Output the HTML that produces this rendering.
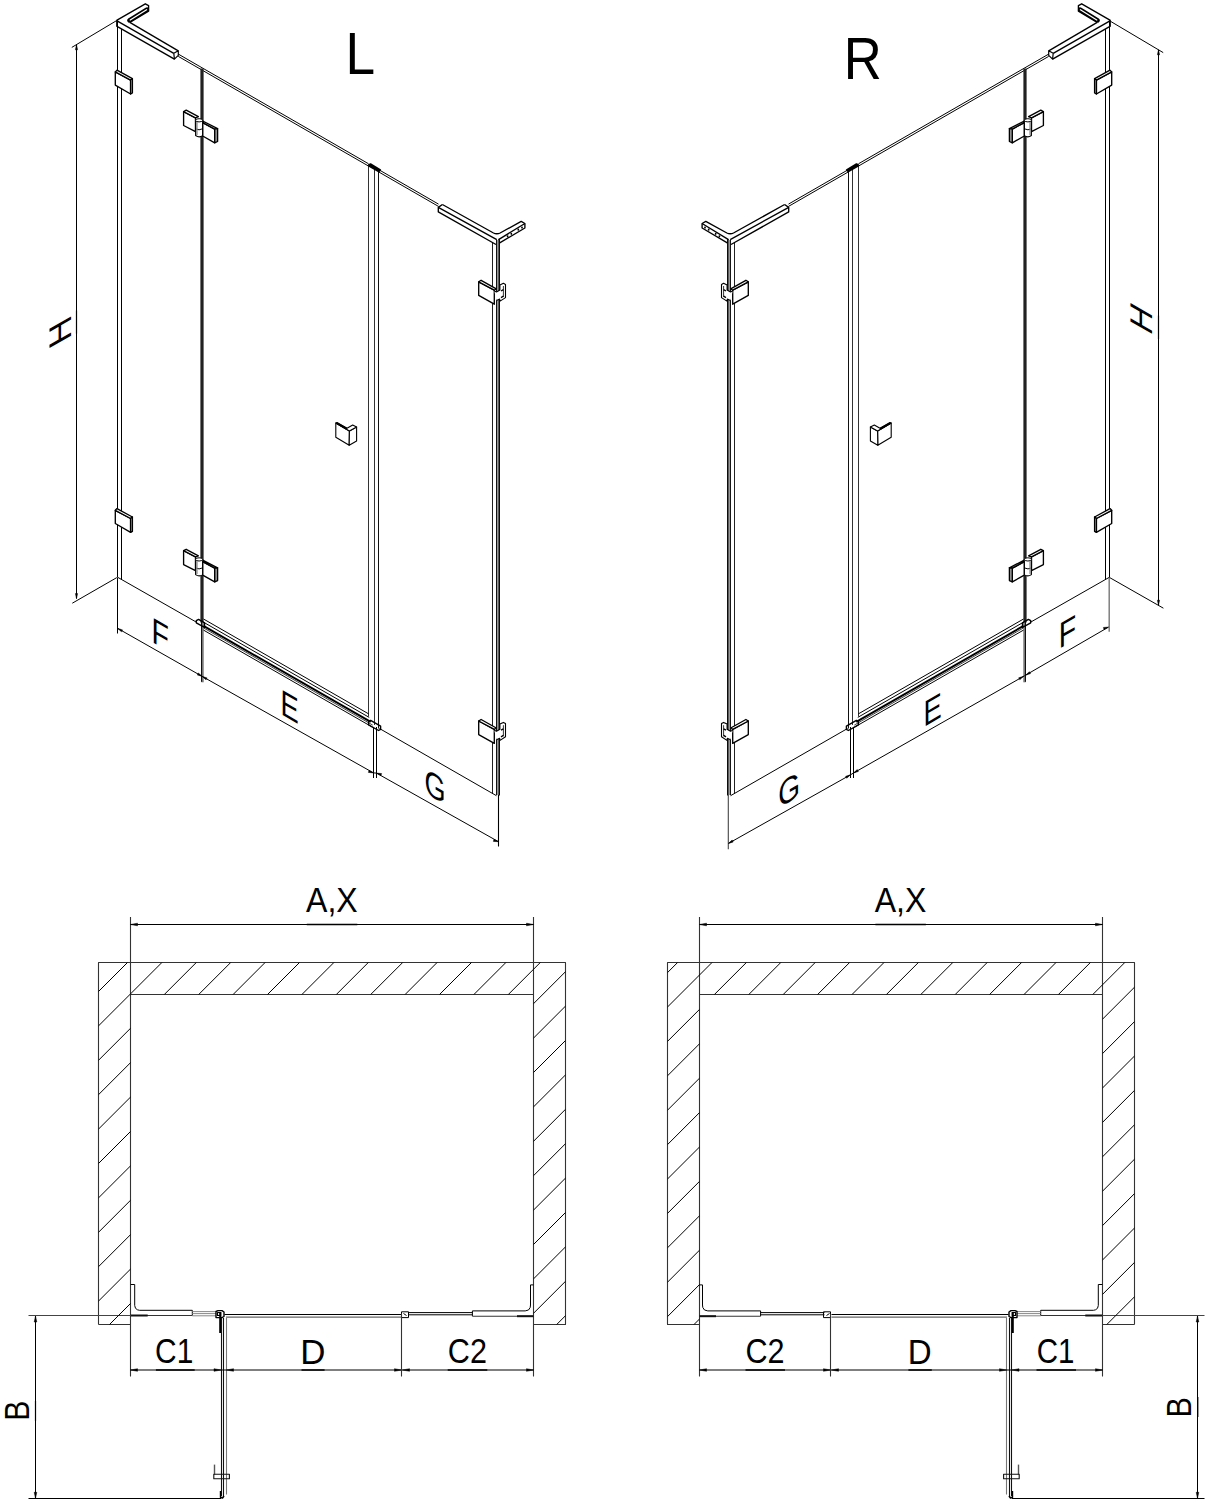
<!DOCTYPE html><html><head><meta charset="utf-8"><style>html,body{margin:0;padding:0;background:#fff;}svg{display:block;}</style></head><body><svg width="1212" height="1505" viewBox="0 0 1212 1505"><defs><clipPath id="cpl"><polygon points="98.5,962.5 565.5,962.5 565.5,1324.5 533.5,1324.5 533.5,994.5 130.5,994.5 130.5,1324.5 98.5,1324.5"/></clipPath><clipPath id="cpr"><polygon points="1134.5,962.5 667.5,962.5 667.5,1324.5 699.5,1324.5 699.5,994.5 1102.5,994.5 1102.5,1324.5 1134.5,1324.5"/></clipPath></defs><g id="isoL"><line x1="117.5" y1="20.5" x2="117.5" y2="577.5" stroke="#000" stroke-width="1.0"/><line x1="121.5" y1="29" x2="121.5" y2="579.8" stroke="#000" stroke-width="1.0"/><polygon points="115.3,71.9 130.6,80.1 130.6,94 115.3,85.1" stroke="#000" stroke-width="1.35" fill="#fff" stroke-linejoin="round"/><polygon points="115.3,71.9 117,70.2 132.4,78.6 130.6,80.1" stroke="#000" stroke-width="1.35" fill="#fff" stroke-linejoin="round"/><polygon points="130.6,80.1 132.4,78.6 132.4,93 130.6,94" stroke="#000" stroke-width="1.35" fill="#ddd" stroke-linejoin="round"/><polygon points="115.3,510.3 130.6,518.5 130.6,532.4 115.3,523.5" stroke="#000" stroke-width="1.35" fill="#fff" stroke-linejoin="round"/><polygon points="115.3,510.3 117,508.6 132.4,517 130.6,518.5" stroke="#000" stroke-width="1.35" fill="#fff" stroke-linejoin="round"/><polygon points="130.6,518.5 132.4,517 132.4,531.4 130.6,532.4" stroke="#000" stroke-width="1.35" fill="#ddd" stroke-linejoin="round"/><polyline points="116.6,20.3 145.3,3.8 148.6,5.6 148.6,11.2 129.8,22.4" stroke="#000" stroke-width="1.35" fill="none" stroke-linejoin="round"/><line x1="129.4" y1="20.4" x2="146.8" y2="9.6" stroke="#000" stroke-width="4.6" stroke-linecap="round"/><line x1="130.2" y1="20" x2="146.6" y2="9.8" stroke="#fff" stroke-width="1.3" stroke-linecap="round"/><line x1="129.8" y1="22.4" x2="178.3" y2="50.8" stroke="#000" stroke-width="1.35"/><line x1="116.6" y1="20.6" x2="173.8" y2="53.3" stroke="#000" stroke-width="1.35"/><line x1="116.6" y1="26.1" x2="174.4" y2="59.1" stroke="#000" stroke-width="1.35"/><line x1="116.8" y1="20.3" x2="116.8" y2="26.5" stroke="#000" stroke-width="1.35"/><polyline points="173.8,53.3 178.3,50.8 178.3,55.4 174.4,59.1 173.8,53.3" stroke="#000" stroke-width="1.2" fill="none" stroke-linejoin="round"/><line x1="178.3" y1="54.08" x2="368.5" y2="163.75" stroke="#000" stroke-width="1.0"/><line x1="379" y1="169.8" x2="438.5" y2="204.11" stroke="#000" stroke-width="1.0"/><line x1="178.3" y1="56.38" x2="368.5" y2="166.05" stroke="#000" stroke-width="1.0"/><line x1="379" y1="172.1" x2="438.5" y2="206.41" stroke="#000" stroke-width="1.0"/><rect x="200.4" y="68.5" width="3.2" height="554" fill="#222"/><rect x="201.3" y="622" width="2.4" height="60.3" fill="#777"/><line x1="201.5" y1="622" x2="201.5" y2="681.8" stroke="#111" stroke-width="1"/><polygon points="183.6,111.6 195.5,117.8 195.5,131.6 183.6,125.5" stroke="#000" stroke-width="1.35" fill="#fff" stroke-linejoin="round"/><polygon points="183.6,111.6 186.2,110.2 198.4,116.7 195.5,117.8" stroke="#000" stroke-width="1.35" fill="#fff" stroke-linejoin="round"/><polygon points="202.7,122.6 214.7,129.1 214.7,142.8 202.7,136" stroke="#000" stroke-width="1.35" fill="#fff" stroke-linejoin="round"/><polygon points="202.7,121 217.6,128.7 214.7,129.1 202.7,122.6" stroke="#000" stroke-width="1.35" fill="#fff" stroke-linejoin="round"/><polygon points="214.7,129.1 217.6,128.7 217.6,141.5 214.7,142.8" stroke="#000" stroke-width="1.35" fill="#999" stroke-linejoin="round"/><path d="M195.6,120.5 L195.6,135.5 Q199,138 202.6,135.8 L202.6,120.5 Z" stroke="#000" stroke-width="1.1" fill="#fff" stroke-linejoin="round"/><ellipse cx="199.1" cy="120.3" rx="3.5" ry="1.6" fill="#fff" stroke="#000" stroke-width="1"/><path d="M195.6,128.8 Q199,130.8 202.6,128.8" stroke="#000" stroke-width="1" fill="none" stroke-linejoin="round"/><rect x="196.2" y="122" width="1.4" height="13" fill="#888"/><polygon points="183.6,550.7 195.5,556.9 195.5,570.7 183.6,564.6" stroke="#000" stroke-width="1.35" fill="#fff" stroke-linejoin="round"/><polygon points="183.6,550.7 186.2,549.3 198.4,555.8 195.5,556.9" stroke="#000" stroke-width="1.35" fill="#fff" stroke-linejoin="round"/><polygon points="202.7,561.7 214.7,568.2 214.7,581.9 202.7,575.1" stroke="#000" stroke-width="1.35" fill="#fff" stroke-linejoin="round"/><polygon points="202.7,560.1 217.6,567.8 214.7,568.2 202.7,561.7" stroke="#000" stroke-width="1.35" fill="#fff" stroke-linejoin="round"/><polygon points="214.7,568.2 217.6,567.8 217.6,580.6 214.7,581.9" stroke="#000" stroke-width="1.35" fill="#999" stroke-linejoin="round"/><path d="M195.6,559.6 L195.6,574.6 Q199,577.1 202.6,574.9 L202.6,559.6 Z" stroke="#000" stroke-width="1.1" fill="#fff" stroke-linejoin="round"/><ellipse cx="199.1" cy="559.4" rx="3.5" ry="1.6" fill="#fff" stroke="#000" stroke-width="1"/><path d="M195.6,567.9 Q199,569.9 202.6,567.9" stroke="#000" stroke-width="1" fill="none" stroke-linejoin="round"/><rect x="196.2" y="561.1" width="1.4" height="13" fill="#888"/><line x1="368.5" y1="166" x2="368.5" y2="716.5" stroke="#333" stroke-width="1.0"/><line x1="374.5" y1="168" x2="374.5" y2="725" stroke="#333" stroke-width="1.0"/><line x1="378.5" y1="170.8" x2="378.5" y2="728.5" stroke="#111" stroke-width="1.0"/><polyline points="368.2,165.2 370.5,164 380.3,170 378.7,171.6 368.2,165.6" stroke="#000" stroke-width="1.6" fill="#000" stroke-linejoin="round"/><line x1="373.5" y1="727" x2="373.5" y2="778" stroke="#000" stroke-width="1.0"/><line x1="376.5" y1="727" x2="376.5" y2="778" stroke="#000" stroke-width="1.0"/><polygon points="335.8,423.1 349.4,431 349.2,445.2 335.8,437.3" stroke="#000" stroke-width="1.1" fill="#fff" stroke-linejoin="round"/><polygon points="349.4,431 356.6,427 356.6,441 349.2,445.2" stroke="#000" stroke-width="1.1" fill="#fff" stroke-linejoin="round"/><polygon points="335.8,423.1 337,422.5 347,428.2 352.7,425.1 356.6,427 349.4,431" stroke="#000" stroke-width="1.1" fill="#fff" stroke-linejoin="round"/><line x1="336.5" y1="423" x2="346.5" y2="428.6" stroke="#000" stroke-width="2"/><line x1="203.5" y1="619" x2="368.7" y2="713.91" stroke="#000" stroke-width="1.0"/><line x1="203.5" y1="622.2" x2="369.2" y2="717.4" stroke="#000" stroke-width="1.0"/><line x1="203.5" y1="625.9" x2="370.7" y2="721.96" stroke="#000" stroke-width="2.0"/><line x1="203.5" y1="627.9" x2="372.7" y2="725.11" stroke="#444" stroke-width="1.0"/><line x1="203.5" y1="630.1" x2="372.7" y2="727.31" stroke="#000" stroke-width="1.0"/><polygon points="196.3,620.6 198.6,619.4 204.5,622.8 204.5,627.4 196.3,622.8" stroke="#000" stroke-width="1.4" fill="none" stroke-linejoin="round"/><polygon points="368.6,721.5 370.6,720.4 380.6,726.2 380.6,729.4 378.6,730.5 368.6,724.8" stroke="#000" stroke-width="1.4" fill="none" stroke-linejoin="round"/><line x1="492.5" y1="242.2" x2="492.5" y2="793.5" stroke="#222" stroke-width="1.0"/><rect x="496.4" y="240" width="2.2" height="555" fill="#aaa"/><line x1="496.6" y1="240" x2="496.6" y2="795" stroke="#000" stroke-width="1.0"/><line x1="499.2" y1="239" x2="499.2" y2="795.5" stroke="#000" stroke-width="1.5"/><polyline points="442.4,204.5 438.3,207.4 438.3,211.9 496,244.5" stroke="#000" stroke-width="1.35" fill="none" stroke-linejoin="round"/><line x1="438.3" y1="207.4" x2="496.8" y2="239.6" stroke="#000" stroke-width="1.35"/><path d="M442.4,204.5 L493.5,233 Q496.8,234.6 500.1,233 L521.2,221.4 L524.9,223.5 L524.9,228 L499.7,242.9" stroke="#000" stroke-width="1.35" fill="none" stroke-linejoin="round"/><line x1="498.5" y1="239.6" x2="524.9" y2="223.5" stroke="#000" stroke-width="1.35"/><ellipse cx="507.6" cy="236.3" rx="0.9" ry="1.1" fill="#000"/><ellipse cx="511.3" cy="233.8" rx="0.9" ry="1.1" fill="#000"/><ellipse cx="518.3" cy="229.7" rx="0.9" ry="1.1" fill="#000"/><ellipse cx="522" cy="227.6" rx="0.9" ry="1.1" fill="#000"/><polygon points="478.7,281.8 494.3,290.2 494.3,304.2 478.7,295.4" stroke="#000" stroke-width="1.35" fill="#fff" stroke-linejoin="round"/><polygon points="478.7,281.8 481.1,280.3 496.3,288.8 494.3,290.2" stroke="#000" stroke-width="1.35" fill="#fff" stroke-linejoin="round"/><path d="M494.3,291 L496.5,292 L499.9,290 L499.9,284.9 L503.4,283.2 L505.5,284.4 L505.5,297.6 L499.7,301.4 L499.7,299 L496.5,300.5" stroke="#000" stroke-width="1.1" fill="#fff" stroke-linejoin="round"/><line x1="503.4" y1="286" x2="503.4" y2="297" stroke="#000" stroke-width="0.8"/><line x1="501" y1="291" x2="503.4" y2="289.6" stroke="#000" stroke-width="1.4"/><line x1="501" y1="297.6" x2="503.4" y2="296.2" stroke="#000" stroke-width="1.4"/><polygon points="478.7,721 494.3,729.4 494.3,743.4 478.7,734.6" stroke="#000" stroke-width="1.35" fill="#fff" stroke-linejoin="round"/><polygon points="478.7,721 481.1,719.5 496.3,728 494.3,729.4" stroke="#000" stroke-width="1.35" fill="#fff" stroke-linejoin="round"/><path d="M494.3,730.2 L496.5,731.2 L499.9,729.2 L499.9,724.1 L503.4,722.4 L505.5,723.6 L505.5,736.8 L499.7,740.6 L499.7,738.2 L496.5,739.7" stroke="#000" stroke-width="1.1" fill="#fff" stroke-linejoin="round"/><line x1="503.4" y1="725.2" x2="503.4" y2="736.2" stroke="#000" stroke-width="0.8"/><line x1="501" y1="730.2" x2="503.4" y2="728.8" stroke="#000" stroke-width="1.4"/><line x1="501" y1="736.8" x2="503.4" y2="735.4" stroke="#000" stroke-width="1.4"/><line x1="117.5" y1="577.2" x2="196.5" y2="622.23" stroke="#000" stroke-width="1.0"/><line x1="379.5" y1="728.52" x2="496.5" y2="795.74" stroke="#000" stroke-width="1.0"/></g><use href="#isoL" transform="matrix(-1,0,0,1,1227,0)"/><line x1="76.5" y1="44.8" x2="76.5" y2="598.6" stroke="#000" stroke-width="1.0"/><line x1="71.8" y1="47.4" x2="116.6" y2="20.6" stroke="#000" stroke-width="1.0"/><line x1="72.3" y1="603.2" x2="116.8" y2="577.6" stroke="#000" stroke-width="1.0"/><polygon points="75.4,49.8 76.5,44.8 77.6,49.8" stroke="#000" stroke-width="0.5" fill="#000" stroke-linejoin="round"/><polygon points="75.4,593.6 76.5,598.6 77.6,593.6" stroke="#000" stroke-width="0.5" fill="#000" stroke-linejoin="round"/><line x1="1158.5" y1="49.8" x2="1158.5" y2="605.2" stroke="#000" stroke-width="1.0"/><line x1="1110.3" y1="21.2" x2="1163.2" y2="52.6" stroke="#000" stroke-width="1.0"/><line x1="1109.7" y1="577.6" x2="1163.4" y2="608.2" stroke="#000" stroke-width="1.0"/><polygon points="1157.4,54.8 1158.5,49.8 1159.6,54.8" stroke="#000" stroke-width="0.5" fill="#000" stroke-linejoin="round"/><polygon points="1157.4,600.2 1158.5,605.2 1159.6,600.2" stroke="#000" stroke-width="0.5" fill="#000" stroke-linejoin="round"/><polyline points="117.7,628.4 202.2,676.4 373.5,772.9 376.5,773.1 498.5,841.7" stroke="#000" stroke-width="1.0" fill="none" stroke-linejoin="round"/><line x1="117.5" y1="578" x2="117.5" y2="633.5" stroke="#000" stroke-width="1.0"/><line x1="498.5" y1="795" x2="498.5" y2="846.5" stroke="#000" stroke-width="1.1"/><polygon points="122.59,629.91 117.7,628.4 121.5,631.83" stroke="#000" stroke-width="0.5" fill="#000" stroke-linejoin="round"/><polygon points="197.31,674.9 202.2,676.4 198.39,672.98" stroke="#000" stroke-width="0.5" fill="#000" stroke-linejoin="round"/><polygon points="207.09,677.9 202.2,676.4 206.01,679.82" stroke="#000" stroke-width="0.5" fill="#000" stroke-linejoin="round"/><polygon points="368.4,772.45 373.5,772.9 369.06,770.35" stroke="#000" stroke-width="0.5" fill="#000" stroke-linejoin="round"/><polygon points="381.6,773.55 376.5,773.1 380.94,775.65" stroke="#000" stroke-width="0.5" fill="#000" stroke-linejoin="round"/><polygon points="493.39,841.41 498.5,841.7 493.98,839.29" stroke="#000" stroke-width="0.5" fill="#000" stroke-linejoin="round"/><polyline points="728.3,843.5 850.5,774.8 853.5,773 1024.5,675.8 1108.5,627.1" stroke="#000" stroke-width="1.0" fill="none" stroke-linejoin="round"/><line x1="1109.2" y1="578" x2="1109.2" y2="631.8" stroke="#777" stroke-width="1.4"/><line x1="728.3" y1="795" x2="728.3" y2="849.2" stroke="#444" stroke-width="1.1"/><polygon points="732.12,840.09 728.3,843.5 733.2,842.01" stroke="#000" stroke-width="0.5" fill="#000" stroke-linejoin="round"/><polygon points="846.73,778.26 850.5,774.8 845.62,776.36" stroke="#000" stroke-width="0.5" fill="#000" stroke-linejoin="round"/><polygon points="857.26,769.53 853.5,773 858.37,771.43" stroke="#000" stroke-width="0.5" fill="#000" stroke-linejoin="round"/><polygon points="1019.8,679.74 1023.6,676.31 1018.71,677.83" stroke="#000" stroke-width="0.5" fill="#000" stroke-linejoin="round"/><polygon points="1029.37,671.7 1025.6,675.16 1030.48,673.61" stroke="#000" stroke-width="0.5" fill="#000" stroke-linejoin="round"/><polygon points="1104,629.55 1108.5,627.1 1103.39,627.44" stroke="#000" stroke-width="0.5" fill="#000" stroke-linejoin="round"/><polyline points="98.5,1324.5 98.5,962.5 565.5,962.5 565.5,1324.5 534,1324.5" stroke="#333" stroke-width="1.1" fill="none" stroke-linejoin="round"/><line x1="98.5" y1="1324.5" x2="130.5" y2="1324.5" stroke="#333" stroke-width="1.1"/><line x1="130.5" y1="994.5" x2="533.5" y2="994.5" stroke="#333" stroke-width="1.1"/><line x1="130.5" y1="917" x2="130.5" y2="1376.5" stroke="#333" stroke-width="1.1"/><line x1="533.5" y1="917" x2="533.5" y2="1376.5" stroke="#333" stroke-width="1.1"/><line x1="130.5" y1="924.5" x2="533.5" y2="924.5" stroke="#000" stroke-width="1.0"/><polygon points="137.5,923.2 130.5,924.5 137.5,925.8" stroke="#000" stroke-width="0.5" fill="#000" stroke-linejoin="round"/><polygon points="526.5,923.2 533.5,924.5 526.5,925.8" stroke="#000" stroke-width="0.5" fill="#000" stroke-linejoin="round"/><polyline points="130.7,1284.5 134.7,1284.5 134.7,1305.5 135.5,1308.3 137.5,1309.8 139.5,1310.3 192.3,1310.3 192.3,1315.6" stroke="#000" stroke-width="1.0" fill="none" stroke-linejoin="round"/><line x1="130.7" y1="1315.5" x2="192.3" y2="1315.5" stroke="#333" stroke-width="1.2"/><line x1="130.7" y1="1315.5" x2="147.7" y2="1315.5" stroke="#111" stroke-width="2"/><line x1="28.5" y1="1315.5" x2="130.5" y2="1315.5" stroke="#444" stroke-width="1.0"/><line x1="192.3" y1="1311.6" x2="216" y2="1311.6" stroke="#888" stroke-width="1.0"/><line x1="192.3" y1="1313.6" x2="216" y2="1313.6" stroke="#888" stroke-width="1.0"/><line x1="192.3" y1="1315.8" x2="216" y2="1315.8" stroke="#888" stroke-width="1.0"/><polygon points="216,1311.5 218,1310.6 222,1310.6 224,1312 224,1316.5 222,1317.6 216,1317.6" stroke="#000" stroke-width="1.4" fill="#fff" stroke-linejoin="round"/><polygon points="217.5,1312.5 220.5,1312.5 220.5,1315.5 217.5,1315.5" stroke="#000" stroke-width="1.2" fill="none" stroke-linejoin="round"/><line x1="224.5" y1="1314.5" x2="401.5" y2="1314.5" stroke="#000" stroke-width="1.1"/><line x1="226" y1="1317.2" x2="401.5" y2="1317.2" stroke="#666" stroke-width="1.2"/><polygon points="401.5,1311.8 408.5,1311.8 408.5,1317.6 401.5,1317.6" stroke="#000" stroke-width="1" fill="#fff" stroke-linejoin="round"/><line x1="403.5" y1="1313.5" x2="406.5" y2="1315.5" stroke="#000" stroke-width="1"/><line x1="408.5" y1="1312.6" x2="472.4" y2="1312.6" stroke="#000" stroke-width="1"/><line x1="408.5" y1="1314.8" x2="472.4" y2="1314.8" stroke="#000" stroke-width="1"/><polyline points="472.4,1316.2 472.4,1310.9 525.2,1310.9 528.5,1310 530.2,1307.5 530.5,1305 530.5,1284.9 533.5,1284.9" stroke="#000" stroke-width="1.0" fill="none" stroke-linejoin="round"/><line x1="472.4" y1="1316.2" x2="533.5" y2="1316.2" stroke="#333" stroke-width="1.1"/><line x1="517" y1="1316.2" x2="533.5" y2="1316.2" stroke="#111" stroke-width="2"/><line x1="220.3" y1="1312" x2="220.3" y2="1333" stroke="#000" stroke-width="2.2"/><line x1="221.5" y1="1318" x2="221.5" y2="1496" stroke="#111" stroke-width="1.1"/><line x1="223.5" y1="1318" x2="223.5" y2="1496" stroke="#111" stroke-width="1.1"/><line x1="226.5" y1="1318" x2="226.5" y2="1494.5" stroke="#777" stroke-width="1.1"/><polyline points="220.6,1491 220.6,1497.5 222.5,1498 224,1496" stroke="#000" stroke-width="1.6" fill="none" stroke-linejoin="round"/><line x1="214.5" y1="1464.6" x2="214.5" y2="1474.5" stroke="#555" stroke-width="1.4"/><polygon points="213.8,1474.3 229.4,1474.3 229.4,1478.7 213.8,1478.7" stroke="#111" stroke-width="1.1" fill="none" stroke-linejoin="round"/><line x1="35.5" y1="1316" x2="35.5" y2="1498.3" stroke="#000" stroke-width="1.0"/><polygon points="34.2,1322 35.5,1316 36.8,1322" stroke="#000" stroke-width="0.5" fill="#000" stroke-linejoin="round"/><polygon points="34.2,1492.3 35.5,1498.3 36.8,1492.3" stroke="#000" stroke-width="0.5" fill="#000" stroke-linejoin="round"/><line x1="28.5" y1="1498.5" x2="221" y2="1498.5" stroke="#000" stroke-width="1.1"/><line x1="130.5" y1="1370" x2="533.5" y2="1370" stroke="#000" stroke-width="1.0"/><polygon points="137.5,1368.7 130.5,1370 137.5,1371.3" stroke="#000" stroke-width="0.5" fill="#000" stroke-linejoin="round"/><polygon points="214,1368.7 221,1370 214,1371.3" stroke="#000" stroke-width="0.5" fill="#000" stroke-linejoin="round"/><polygon points="233.5,1368.7 226.5,1370 233.5,1371.3" stroke="#000" stroke-width="0.5" fill="#000" stroke-linejoin="round"/><polygon points="394.5,1368.7 401.5,1370 394.5,1371.3" stroke="#000" stroke-width="0.5" fill="#000" stroke-linejoin="round"/><polygon points="409.5,1368.7 402.5,1370 409.5,1371.3" stroke="#000" stroke-width="0.5" fill="#000" stroke-linejoin="round"/><polygon points="526.5,1368.7 533.5,1370 526.5,1371.3" stroke="#000" stroke-width="0.5" fill="#000" stroke-linejoin="round"/><line x1="401.5" y1="1313.5" x2="401.5" y2="1376.5" stroke="#333" stroke-width="1.1"/><polyline points="1134.5,1324.5 1134.5,962.5 667.5,962.5 667.5,1324.5 699,1324.5" stroke="#333" stroke-width="1.1" fill="none" stroke-linejoin="round"/><line x1="1134.5" y1="1324.5" x2="1102.5" y2="1324.5" stroke="#333" stroke-width="1.1"/><line x1="1102.5" y1="994.5" x2="699.5" y2="994.5" stroke="#333" stroke-width="1.1"/><line x1="1102.5" y1="917" x2="1102.5" y2="1376.5" stroke="#333" stroke-width="1.1"/><line x1="699.5" y1="917" x2="699.5" y2="1376.5" stroke="#333" stroke-width="1.1"/><line x1="1102.5" y1="924.5" x2="699.5" y2="924.5" stroke="#000" stroke-width="1.0"/><polygon points="1095.5,923.2 1102.5,924.5 1095.5,925.8" stroke="#000" stroke-width="0.5" fill="#000" stroke-linejoin="round"/><polygon points="706.5,923.2 699.5,924.5 706.5,925.8" stroke="#000" stroke-width="0.5" fill="#000" stroke-linejoin="round"/><polyline points="1102.3,1284.5 1098.3,1284.5 1098.3,1305.5 1097.5,1308.3 1095.5,1309.8 1093.5,1310.3 1040.7,1310.3 1040.7,1315.6" stroke="#000" stroke-width="1.0" fill="none" stroke-linejoin="round"/><line x1="1102.3" y1="1315.5" x2="1040.7" y2="1315.5" stroke="#333" stroke-width="1.2"/><line x1="1102.3" y1="1315.5" x2="1085.3" y2="1315.5" stroke="#111" stroke-width="2"/><line x1="1204.5" y1="1315.5" x2="1102.5" y2="1315.5" stroke="#444" stroke-width="1.0"/><line x1="1040.7" y1="1311.6" x2="1017" y2="1311.6" stroke="#888" stroke-width="1.0"/><line x1="1040.7" y1="1313.6" x2="1017" y2="1313.6" stroke="#888" stroke-width="1.0"/><line x1="1040.7" y1="1315.8" x2="1017" y2="1315.8" stroke="#888" stroke-width="1.0"/><polygon points="1017,1311.5 1015,1310.6 1011,1310.6 1009,1312 1009,1316.5 1011,1317.6 1017,1317.6" stroke="#000" stroke-width="1.4" fill="#fff" stroke-linejoin="round"/><polygon points="1015.5,1312.5 1012.5,1312.5 1012.5,1315.5 1015.5,1315.5" stroke="#000" stroke-width="1.2" fill="none" stroke-linejoin="round"/><line x1="1008.5" y1="1314.5" x2="831.5" y2="1314.5" stroke="#000" stroke-width="1.1"/><line x1="1007" y1="1317.2" x2="831.5" y2="1317.2" stroke="#666" stroke-width="1.2"/><polygon points="830.5,1311.8 823.5,1311.8 823.5,1317.6 830.5,1317.6" stroke="#000" stroke-width="1" fill="#fff" stroke-linejoin="round"/><line x1="829.5" y1="1313.5" x2="826.5" y2="1315.5" stroke="#000" stroke-width="1"/><line x1="824.5" y1="1312.6" x2="760.6" y2="1312.6" stroke="#000" stroke-width="1"/><line x1="824.5" y1="1314.8" x2="760.6" y2="1314.8" stroke="#000" stroke-width="1"/><polyline points="760.6,1316.2 760.6,1310.9 707.8,1310.9 704.5,1310 702.8,1307.5 702.5,1305 702.5,1284.9 699.5,1284.9" stroke="#000" stroke-width="1.0" fill="none" stroke-linejoin="round"/><line x1="760.6" y1="1316.2" x2="699.5" y2="1316.2" stroke="#333" stroke-width="1.1"/><line x1="716" y1="1316.2" x2="699.5" y2="1316.2" stroke="#111" stroke-width="2"/><line x1="1012.7" y1="1312" x2="1012.7" y2="1333" stroke="#000" stroke-width="2.2"/><line x1="1011.5" y1="1318" x2="1011.5" y2="1496" stroke="#111" stroke-width="1.1"/><line x1="1009.5" y1="1318" x2="1009.5" y2="1496" stroke="#111" stroke-width="1.1"/><line x1="1006.5" y1="1318" x2="1006.5" y2="1494.5" stroke="#777" stroke-width="1.1"/><polyline points="1012.4,1491 1012.4,1497.5 1010.5,1498 1009,1496" stroke="#000" stroke-width="1.6" fill="none" stroke-linejoin="round"/><line x1="1018.5" y1="1464.6" x2="1018.5" y2="1474.5" stroke="#555" stroke-width="1.4"/><polygon points="1019.2,1474.3 1003.6,1474.3 1003.6,1478.7 1019.2,1478.7" stroke="#111" stroke-width="1.1" fill="none" stroke-linejoin="round"/><line x1="1197.5" y1="1316" x2="1197.5" y2="1498.3" stroke="#000" stroke-width="1.0"/><polygon points="1198.8,1322 1197.5,1316 1196.2,1322" stroke="#000" stroke-width="0.5" fill="#000" stroke-linejoin="round"/><polygon points="1198.8,1492.3 1197.5,1498.3 1196.2,1492.3" stroke="#000" stroke-width="0.5" fill="#000" stroke-linejoin="round"/><line x1="1204.5" y1="1498.5" x2="1012" y2="1498.5" stroke="#000" stroke-width="1.1"/><line x1="1102.5" y1="1370" x2="699.5" y2="1370" stroke="#000" stroke-width="1.0"/><polygon points="1095.5,1368.7 1102.5,1370 1095.5,1371.3" stroke="#000" stroke-width="0.5" fill="#000" stroke-linejoin="round"/><polygon points="1019,1368.7 1012,1370 1019,1371.3" stroke="#000" stroke-width="0.5" fill="#000" stroke-linejoin="round"/><polygon points="999.5,1368.7 1006.5,1370 999.5,1371.3" stroke="#000" stroke-width="0.5" fill="#000" stroke-linejoin="round"/><polygon points="838.5,1368.7 831.5,1370 838.5,1371.3" stroke="#000" stroke-width="0.5" fill="#000" stroke-linejoin="round"/><polygon points="823.5,1368.7 830.5,1370 823.5,1371.3" stroke="#000" stroke-width="0.5" fill="#000" stroke-linejoin="round"/><polygon points="706.5,1368.7 699.5,1370 706.5,1371.3" stroke="#000" stroke-width="0.5" fill="#000" stroke-linejoin="round"/><line x1="830.5" y1="1313.5" x2="830.5" y2="1376.5" stroke="#333" stroke-width="1.1"/><line x1="306.8" y1="924.5" x2="357.3" y2="924.5" stroke="#000" stroke-width="1.5"/><line x1="875.4" y1="924.5" x2="925.9" y2="924.5" stroke="#000" stroke-width="1.5"/><line x1="155.9" y1="1370" x2="194.7" y2="1370" stroke="#000" stroke-width="1.5"/><line x1="301.5" y1="1370" x2="324.6" y2="1370" stroke="#000" stroke-width="1.5"/><line x1="447.7" y1="1370" x2="487.3" y2="1370" stroke="#000" stroke-width="1.5"/><line x1="745.5" y1="1370" x2="785" y2="1370" stroke="#000" stroke-width="1.5"/><line x1="908.4" y1="1370" x2="931.8" y2="1370" stroke="#000" stroke-width="1.5"/><line x1="1036.5" y1="1370" x2="1076" y2="1370" stroke="#000" stroke-width="1.5"/><line x1="76.5" y1="310.5" x2="76.5" y2="333.6" stroke="#000" stroke-width="1.2"/><line x1="1158.5" y1="315.6" x2="1158.5" y2="339.2" stroke="#000" stroke-width="1.2"/><line x1="35.5" y1="1400.8" x2="35.5" y2="1420.9" stroke="#000" stroke-width="1.2"/><line x1="1197.8" y1="1397" x2="1197.8" y2="1417" stroke="#000" stroke-width="1.2"/><g clip-path="url(#cpl)"><line x1="-378.8" y1="1400" x2="121.2" y2="900" stroke="#000" stroke-width="1"/><line x1="-344.4" y1="1400" x2="155.6" y2="900" stroke="#000" stroke-width="1"/><line x1="-310" y1="1400" x2="190" y2="900" stroke="#000" stroke-width="1"/><line x1="-275.6" y1="1400" x2="224.4" y2="900" stroke="#000" stroke-width="1"/><line x1="-241.2" y1="1400" x2="258.8" y2="900" stroke="#000" stroke-width="1"/><line x1="-206.8" y1="1400" x2="293.2" y2="900" stroke="#000" stroke-width="1"/><line x1="-172.4" y1="1400" x2="327.6" y2="900" stroke="#000" stroke-width="1"/><line x1="-138" y1="1400" x2="362" y2="900" stroke="#000" stroke-width="1"/><line x1="-103.6" y1="1400" x2="396.4" y2="900" stroke="#000" stroke-width="1"/><line x1="-69.2" y1="1400" x2="430.8" y2="900" stroke="#000" stroke-width="1"/><line x1="-34.8" y1="1400" x2="465.2" y2="900" stroke="#000" stroke-width="1"/><line x1="-0.4" y1="1400" x2="499.6" y2="900" stroke="#000" stroke-width="1"/><line x1="34" y1="1400" x2="534" y2="900" stroke="#000" stroke-width="1"/><line x1="68.4" y1="1400" x2="568.4" y2="900" stroke="#000" stroke-width="1"/><line x1="102.8" y1="1400" x2="602.8" y2="900" stroke="#000" stroke-width="1"/><line x1="137.2" y1="1400" x2="637.2" y2="900" stroke="#000" stroke-width="1"/><line x1="171.6" y1="1400" x2="671.6" y2="900" stroke="#000" stroke-width="1"/><line x1="206" y1="1400" x2="706" y2="900" stroke="#000" stroke-width="1"/><line x1="240.4" y1="1400" x2="740.4" y2="900" stroke="#000" stroke-width="1"/><line x1="274.8" y1="1400" x2="774.8" y2="900" stroke="#000" stroke-width="1"/><line x1="309.2" y1="1400" x2="809.2" y2="900" stroke="#000" stroke-width="1"/><line x1="343.6" y1="1400" x2="843.6" y2="900" stroke="#000" stroke-width="1"/><line x1="378" y1="1400" x2="878" y2="900" stroke="#000" stroke-width="1"/><line x1="412.4" y1="1400" x2="912.4" y2="900" stroke="#000" stroke-width="1"/><line x1="446.8" y1="1400" x2="946.8" y2="900" stroke="#000" stroke-width="1"/><line x1="481.2" y1="1400" x2="981.2" y2="900" stroke="#000" stroke-width="1"/><line x1="515.6" y1="1400" x2="1015.6" y2="900" stroke="#000" stroke-width="1"/><line x1="550" y1="1400" x2="1050" y2="900" stroke="#000" stroke-width="1"/></g><g clip-path="url(#cpr)"><line x1="171.3" y1="1400" x2="671.3" y2="900" stroke="#000" stroke-width="1"/><line x1="205.7" y1="1400" x2="705.7" y2="900" stroke="#000" stroke-width="1"/><line x1="240.1" y1="1400" x2="740.1" y2="900" stroke="#000" stroke-width="1"/><line x1="274.5" y1="1400" x2="774.5" y2="900" stroke="#000" stroke-width="1"/><line x1="308.9" y1="1400" x2="808.9" y2="900" stroke="#000" stroke-width="1"/><line x1="343.3" y1="1400" x2="843.3" y2="900" stroke="#000" stroke-width="1"/><line x1="377.7" y1="1400" x2="877.7" y2="900" stroke="#000" stroke-width="1"/><line x1="412.1" y1="1400" x2="912.1" y2="900" stroke="#000" stroke-width="1"/><line x1="446.5" y1="1400" x2="946.5" y2="900" stroke="#000" stroke-width="1"/><line x1="480.9" y1="1400" x2="980.9" y2="900" stroke="#000" stroke-width="1"/><line x1="515.3" y1="1400" x2="1015.3" y2="900" stroke="#000" stroke-width="1"/><line x1="549.7" y1="1400" x2="1049.7" y2="900" stroke="#000" stroke-width="1"/><line x1="584.1" y1="1400" x2="1084.1" y2="900" stroke="#000" stroke-width="1"/><line x1="618.5" y1="1400" x2="1118.5" y2="900" stroke="#000" stroke-width="1"/><line x1="652.9" y1="1400" x2="1152.9" y2="900" stroke="#000" stroke-width="1"/><line x1="687.3" y1="1400" x2="1187.3" y2="900" stroke="#000" stroke-width="1"/><line x1="721.7" y1="1400" x2="1221.7" y2="900" stroke="#000" stroke-width="1"/><line x1="756.1" y1="1400" x2="1256.1" y2="900" stroke="#000" stroke-width="1"/><line x1="790.5" y1="1400" x2="1290.5" y2="900" stroke="#000" stroke-width="1"/><line x1="824.9" y1="1400" x2="1324.9" y2="900" stroke="#000" stroke-width="1"/><line x1="859.3" y1="1400" x2="1359.3" y2="900" stroke="#000" stroke-width="1"/><line x1="893.7" y1="1400" x2="1393.7" y2="900" stroke="#000" stroke-width="1"/><line x1="928.1" y1="1400" x2="1428.1" y2="900" stroke="#000" stroke-width="1"/><line x1="962.5" y1="1400" x2="1462.5" y2="900" stroke="#000" stroke-width="1"/><line x1="996.9" y1="1400" x2="1496.9" y2="900" stroke="#000" stroke-width="1"/><line x1="1031.3" y1="1400" x2="1531.3" y2="900" stroke="#000" stroke-width="1"/><line x1="1065.7" y1="1400" x2="1565.7" y2="900" stroke="#000" stroke-width="1"/><line x1="1100.1" y1="1400" x2="1600.1" y2="900" stroke="#000" stroke-width="1"/><line x1="1134.5" y1="1400" x2="1634.5" y2="900" stroke="#000" stroke-width="1"/></g><g font-family="Liberation Sans, sans-serif" fill="#000"><text transform="matrix(0.91,0,0,1,345.55,73.6)" font-size="58.5">L</text><text transform="matrix(0.9,0,0,1,843.75,78.55)" font-size="58.5">R</text><text transform="matrix(0,-0.96,0.87,-0.5,71.15,338.5)" font-size="36">H</text><text transform="matrix(0,-0.91,0.87,0.5,1152.4,336.5)" font-size="36">H</text><text transform="matrix(0.79,0.45,0,1,151.6,641.7)" font-size="36">F</text><text transform="matrix(0.76,0.44,0,1,280.5,713.85)" font-size="36">E</text><text transform="matrix(0.75,0.43,0,1,424.4,792.75)" font-size="36">G</text><text transform="matrix(0.79,-0.45,0,1,1058.85,649.05)" font-size="36">F</text><text transform="matrix(0.76,-0.44,0,1,923.4,727.35)" font-size="36">E</text><text transform="matrix(0.78,-0.45,0,1,778.2,808.2)" font-size="36">G</text><text transform="matrix(0.89,0,0,1,306.05,911.85)" font-size="36">A,X</text><text transform="matrix(0.89,0,0,1,874.75,911.85)" font-size="36">A,X</text><text transform="matrix(0.83,0,0,1,155.05,1363.1)" font-size="36">C1</text><text transform="matrix(0.97,0,0,1,300.2,1363.5)" font-size="36">D</text><text transform="matrix(0.85,0,0,1,447.85,1362.55)" font-size="36">C2</text><text transform="matrix(0.85,0,0,1,745.45,1362.8)" font-size="36">C2</text><text transform="matrix(0.92,0,0,1,907.85,1363.85)" font-size="36">D</text><text transform="matrix(0.82,0,0,1,1036.8,1362.5)" font-size="36">C1</text><text transform="matrix(0,-0.84,1,0,28.8,1420.75)" font-size="36">B</text><text transform="matrix(0,-0.85,1,0,1191.05,1417.55)" font-size="36">B</text></g></svg></body></html>
